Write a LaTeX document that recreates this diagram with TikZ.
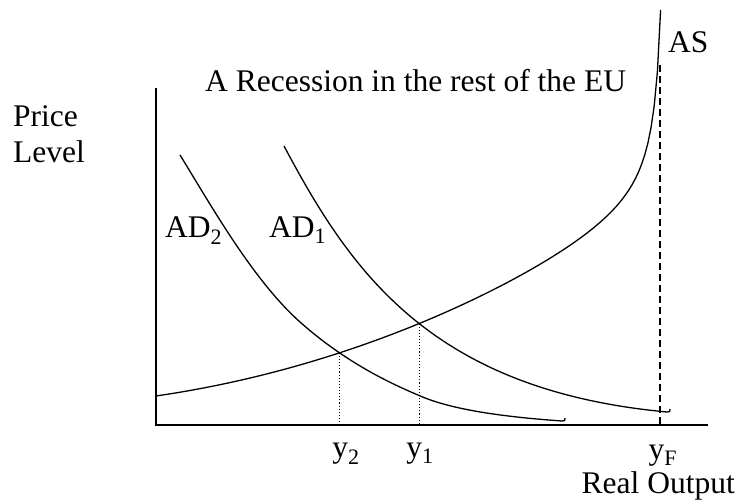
\documentclass[tikz,border=0pt]{standalone}
\usepackage{fontspec}
\setmainfont{Liberation Serif}
\usetikzlibrary{calc,intersections}

\begin{document}
\begin{tikzpicture}[
  x=1pt,y=-1pt,
  font=\fontsize{31.5}{36}\selectfont,
  axisline/.style={line width=1.5pt},
  curveline/.style={line width=1.3pt,line join=round},
  guideline/.style={line width=1.1pt,dotted},
  fullline/.style={line width=1.2pt,dash pattern=on 7pt off 4pt},
  lbl/.style={inner sep=0pt,anchor=base west}
]
\useasboundingbox (0,0) rectangle (737,502);

% -------------------------------------------------------------------------
% Axes.
\coordinate (o) at (156,425);
\coordinate (ytop) at (156,88);
\coordinate (xend) at (708,425);
\draw[axisline] (ytop) -- (o) -- (xend);

% AS curve.
\draw[curveline,name path=as] plot[domain=156:660.6,samples=160]
  (\x,{398.87-0.1401*(\x-156)-4.70*((\x-156)/100)^2-1470.5/(668-\x)});

% AD1 and AD2.
\draw[curveline,name path=ad1] (284,146)
  .. controls (350,270) and (430,390) .. (667,412)
  .. controls (670,412) .. (670,409);
\draw[curveline,name path=ad2] (180,155)
  .. controls (212,207) and (253,280) .. (300,322)
  .. controls (336,354) and (375,377) .. (418,395)
  .. controls (455,412) and (520,418) .. (562,421)
  .. controls (565,421) .. (565,418);

% Equilibria.
\path[name intersections={of=as and ad1,by=e1}];
\path[name intersections={of=as and ad2,by=e2}];

% Guides to the output axis.
\draw[guideline] (e2) -- (e2 |- o);
\draw[guideline] (e1) -- (e1 |- o);
\coordinate (yf) at (660,65);
\draw[fullline] (yf) -- (yf |- o);

% -------------------------------------------------------------------------
% Labels.
\node[lbl] (title) at (205,92) {A Recession in the rest of the EU};
\node[lbl] (aslbl) at (668,53) {AS};
\node[lbl] (price) at (13,127) {Price};
\node[lbl] (level) at (13,163) {Level};
\node[lbl] (ad2lbl) at (165,238) {AD\textsubscript{2}};
\node[lbl] (ad1lbl) at (269,238) {AD\textsubscript{1}};
\node[inner sep=0pt,anchor=base] (y2lbl) at (346,458) {y\textsubscript{2}};
\node[inner sep=0pt,anchor=base] (y1lbl) at (420,458) {y\textsubscript{1}};
\node[inner sep=0pt,anchor=base] (yflbl) at (663,460) {y\textsubscript{F}};
\node[inner sep=0pt,anchor=base east] (outlbl) at (735,494) {Real Output};

\end{tikzpicture}
\end{document}
